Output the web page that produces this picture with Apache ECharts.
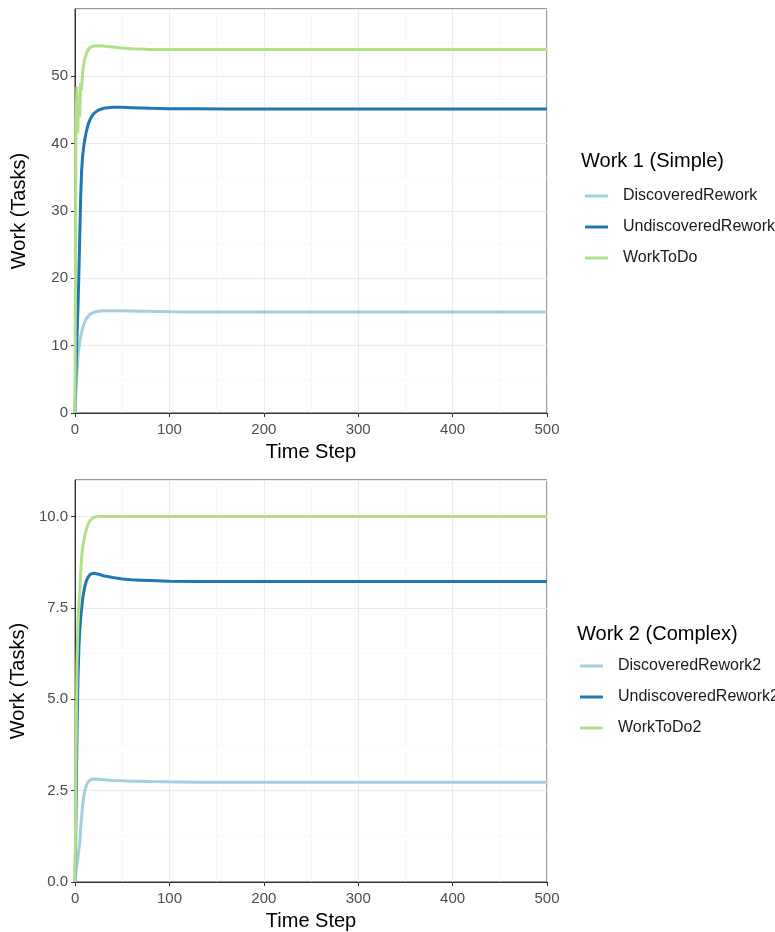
<!DOCTYPE html>
<html>
<head>
<meta charset="utf-8">
<script src="https://cdn.jsdelivr.net/npm/echarts@6/dist/echarts.min.js"></script>
<style>
html, body { margin: 0; padding: 0; background: #fff; }
#main { width: 775px; height: 932px; }
</style>
</head>
<body>
<div id="main"></div>
<script>
// time steps sampled from the simulation
var timeSteps = [0, 1, 2, 3, 4, 5, 6, 7, 8, 9, 10, 12, 14, 16, 18, 20, 25, 30, 40, 50, 60, 70, 80, 100, 130, 160, 200, 300, 400, 500];

// Work 1 (Simple)
var discoveredRework = [0, 3, 6, 8, 9.5, 10.5, 11.3, 12, 12.5, 13, 13.4, 14, 14.4, 14.7, 14.85, 14.95, 15.1, 15.2, 15.2, 15.2, 15.15, 15.1, 15.1, 15.05, 15, 15, 15, 15, 15, 15];
var undiscoveredRework = [0, 6, 11, 15, 20, 26, 32, 36, 38, 39.3, 40.3, 41.8, 42.9, 43.6, 44.1, 44.5, 45, 45.25, 45.4, 45.4, 45.35, 45.3, 45.25, 45.2, 45.2, 45.15, 45.15, 45.15, 45.15, 45.15];
var workToDo = [0, 42, 48.5, 41.5, 47, 44, 49, 48, 50.5, 51.5, 52.5, 53.3, 54, 54.3, 54.45, 54.5, 54.55, 54.5, 54.35, 54.2, 54.1, 54.05, 54, 54, 54, 54, 54, 54, 54, 54];

// Work 2 (Complex)
var discoveredRework2 = [0, 0.3, 0.45, 0.65, 0.9, 1.1, 1.5, 1.8, 2.1, 2.3, 2.45, 2.65, 2.75, 2.8, 2.82, 2.82, 2.81, 2.8, 2.78, 2.77, 2.76, 2.76, 2.75, 2.74, 2.73, 2.73, 2.73, 2.73, 2.73, 2.73];
var undiscoveredRework2 = [0, 2, 4, 5.5, 6.4, 6.9, 7.25, 7.5, 7.75, 7.9, 8.05, 8.25, 8.35, 8.42, 8.45, 8.45, 8.42, 8.38, 8.33, 8.29, 8.27, 8.26, 8.25, 8.23, 8.22, 8.22, 8.22, 8.22, 8.22, 8.22];
var workToDo2 = [0, 3.5, 6, 7, 7.6, 8, 8.5, 8.9, 9.15, 9.3, 9.45, 9.65, 9.8, 9.9, 9.95, 9.98, 10, 10, 10, 10, 10, 10, 10, 10, 10, 10, 10, 10, 10, 10];

var xTicks = [0, 100, 200, 300, 400, 500];
var yTicks1 = [0, 10, 20, 30, 40, 50];
var yTicks2 = [0, 2.5, 5, 7.5, 10];

var colors = ['#A6CEE3', '#1F78B4', '#B2DF8A'];
var font = 'Liberation Sans, Arial, sans-serif';

function pairs(values) {
    return timeSteps.map(function (t, i) { return [t, values[i]]; });
}

function xAxis(idx) {
    return {
        type: 'value', gridIndex: idx, min: xTicks[0], max: xTicks[xTicks.length - 1],
        interval: xTicks[1] - xTicks[0],
        name: 'Time Step', nameLocation: 'middle', nameGap: 29,
        nameTextStyle: { fontFamily: font, fontSize: 20, color: '#000' },
        axisLine: { show: true, onZero: false, lineStyle: { color: '#333', width: 1 } },
        axisTick: { show: true, length: 4, lineStyle: { color: '#333' } },
        axisLabel: { margin: 9, fontFamily: font, fontSize: 15, color: '#4D4D4D' },
        splitLine: { show: true, lineStyle: { color: '#EBEBEB', width: 1.1 } },
        minorTick: { show: false, splitNumber: 2 },
        minorSplitLine: { show: true, lineStyle: { color: '#F5F5F5', width: 0.6 } }
    };
}

function yAxis(idx, ticks, max, dec) {
    return {
        type: 'value', gridIndex: idx, min: 0, max: max, interval: ticks[1] - ticks[0],
        name: 'Work (Tasks)', nameLocation: 'middle', nameGap: 46,
        nameTextStyle: { fontFamily: font, fontSize: 20, color: '#000' },
        axisLine: { show: true, onZero: false, lineStyle: { color: '#333', width: 1 } },
        axisTick: { show: true, length: 4, lineStyle: { color: '#333' } },
        axisLabel: {
            margin: 7, fontFamily: font, fontSize: 15, color: '#4D4D4D', showMaxLabel: false,
            formatter: function (v) { return v.toFixed(dec); }
        },
        splitLine: { show: true, lineStyle: { color: '#EBEBEB', width: 1.1 } },
        minorTick: { show: false, splitNumber: 2 },
        minorSplitLine: { show: true, lineStyle: { color: '#F5F5F5', width: 0.6 } }
    };
}

function line(name, values, idx, color) {
    return {
        name: name, type: 'line', xAxisIndex: idx, yAxisIndex: idx,
        data: pairs(values), showSymbol: false, symbol: 'none',
        lineStyle: { color: color, width: 3 }, itemStyle: { color: color },
        smooth: false, z: 3
    };
}

function legend(names, left, top) {
    return {
        data: names, orient: 'vertical', left: left, top: top, padding: 0,
        icon: 'rect', itemWidth: 23, itemHeight: 3, itemGap: 13,
        textStyle: { fontFamily: font, fontSize: 16, color: '#1A1A1A', lineHeight: 18, padding: [0, 0, 0, 10] }
    };
}

var myChart = echarts.init(document.getElementById('main'));
var option = {
    animation: false,
    color: colors,
    title: [
        { text: 'Work 1 (Simple)', left: 581, top: 151, padding: 0, textStyle: { fontFamily: font, fontSize: 20, fontWeight: 'normal', color: '#000' } },
        { text: 'Work 2 (Complex)', left: 577, top: 624, padding: 0, textStyle: { fontFamily: font, fontSize: 20, fontWeight: 'normal', color: '#000' } }
    ],
    legend: [
        legend(['DiscoveredRework', 'UndiscoveredRework', 'WorkToDo'], 585, 187),
        legend(['DiscoveredRework2', 'UndiscoveredRework2', 'WorkToDo2'], 580, 657)
    ],
    grid: [
        { left: 75, top: 9, width: 472, height: 404, show: true, borderColor: '#333', borderWidth: 1, backgroundColor: '#fff' },
        { left: 75, top: 480, width: 472, height: 404, show: true, borderColor: '#333', borderWidth: 1, backgroundColor: '#fff' }
    ],
    xAxis: [xAxis(0), xAxis(1)],
    yAxis: [yAxis(0, yTicks1, 60, 0), yAxis(1, yTicks2, 11, 1)],
    series: [
        line('DiscoveredRework', discoveredRework, 0, colors[0]),
        line('UndiscoveredRework', undiscoveredRework, 0, colors[1]),
        line('WorkToDo', workToDo, 0, colors[2]),
        line('DiscoveredRework2', discoveredRework2, 1, colors[0]),
        line('UndiscoveredRework2', undiscoveredRework2, 1, colors[1]),
        line('WorkToDo2', workToDo2, 1, colors[2])
    ]
};
myChart.setOption(option);
window.addEventListener('resize', function () { myChart.resize(); });
</script>
</body>
</html>
